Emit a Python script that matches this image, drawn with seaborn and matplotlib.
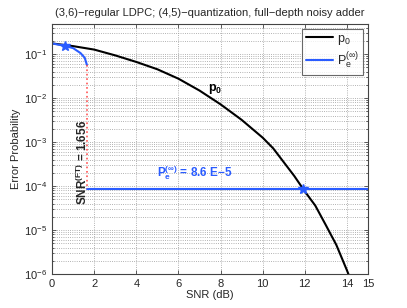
import numpy as np
import pandas as pd
import matplotlib
matplotlib.use('Agg')
import matplotlib.pyplot as plt
from matplotlib.lines import Line2D
from matplotlib.ticker import LogLocator, NullFormatter, FixedLocator
import seaborn as sns

# values
snr_db = [0, 1, 2, 3, 4, 5, 6, 7, 8, 9, 10, 10.5, 11, 11.5, 12, 12.5, 13, 13.5, 14, 14.2]
p0 = [1.74e-1, 1.51e-1, 1.26e-1, 9.3e-2, 6.6e-2, 4.5e-2, 2.75e-2, 1.48e-2,
      7.2e-3, 3.2e-3, 1.26e-3, 7.2e-4, 3.5e-4, 1.7e-4, 7.6e-5, 3.6e-5,
      1.3e-5, 4.6e-6, 1.23e-6, 7.0e-7]

pe_snr = [0, 0.6, 1.0, 1.35, 1.55, 1.656]
pe_curve = [1.74e-1, 1.53e-1, 1.36e-1, 1.05e-1, 8.2e-2, 5.6e-2]

snr_ft = 1.656
pe_inf = 8.6e-5
snr_cross = 11.9
snr_max = 15

x_ticks = [0, 2, 4, 6, 8, 10, 12, 14, 15]

blue = '#2a5cff'

sns.set_style('ticks')
plt.rcParams['font.family'] = ['Liberation Sans', 'DejaVu Sans']
plt.rcParams['mathtext.fontset'] = 'custom'
plt.rcParams['mathtext.rm'] = 'Liberation Sans'
plt.rcParams['mathtext.it'] = 'Liberation Sans'
plt.rcParams['mathtext.bf'] = 'Liberation Sans:bold'

fig, ax = plt.subplots(figsize=(4.07, 3.08), dpi=100)
fig.subplots_adjust(left=0.128, right=0.904, bottom=0.110, top=0.922)

df_p0 = pd.DataFrame({'snr': snr_db, 'p': p0})
df_pe = pd.DataFrame({'snr': pe_snr, 'p': pe_curve})
df_flat = pd.DataFrame({'snr': [snr_ft, snr_max], 'p': [pe_inf, pe_inf]})

sns.lineplot(data=df_p0, x='snr', y='p', color='black', lw=1.5, sort=False,
             estimator=None, ax=ax)
sns.lineplot(data=df_pe, x='snr', y='p', color=blue, lw=1.5, sort=False,
             estimator=None, ax=ax)
sns.lineplot(data=df_flat, x='snr', y='p', color=blue, lw=1.5, sort=False,
             estimator=None, ax=ax)

# threshold jump
ax.plot([snr_ft, snr_ft], [pe_curve[-1], pe_inf], color='#ff5555', ls=':', lw=1.2)

# star markers
ax.plot([pe_snr[1], snr_cross], [pe_curve[1], pe_inf], ls='none', marker='*',
        ms=7, color=blue)

ax.set_yscale('log')
ax.set_xlim(0, 15)
ax.set_ylim(1e-6, 0.48)
ax.xaxis.set_major_locator(FixedLocator(x_ticks))
ax.yaxis.set_major_locator(LogLocator(base=10, numticks=10))
ax.yaxis.set_minor_locator(LogLocator(base=10, subs=np.arange(2, 10), numticks=20))
ax.yaxis.set_minor_formatter(NullFormatter())

ax.grid(True, which='major', color='#999999', ls=':', lw=0.6)
ax.grid(True, which='minor', axis='y', color='#999999', ls=':', lw=0.6)
ax.tick_params(which='both', direction='in', top=True, right=True,
               labelsize=8, color='#444444', width=0.6)
ax.tick_params(which='major', length=3)
ax.tick_params(which='minor', length=1.5)
for s in ax.spines.values():
    s.set_color('#444444')
    s.set_linewidth(0.8)

ax.set_title('(3,6)\u2212regular LDPC; (4,5)\u2212quantization, full\u2212depth noisy adder',
             fontsize=8, pad=6)
ax.set_xlabel('SNR (dB)', fontsize=8, labelpad=1)
ax.set_ylabel('Error Probability', fontsize=8, labelpad=2)

ax.text(7.4, 1.6e-2, r'$\mathbf{p_0}$', fontsize=9, color='black',
        ha='left', va='center')
ax.text(5.0, 1.25e-4, r'$\mathbf{P_e^{(\infty)}}$' + ' = 8.6 E\u22125', fontsize=8.5,
        color=blue, fontweight='bold', ha='left', va='bottom')
ax.text(1.42, 3.4e-4, r'$\mathbf{SNR^{(FT)}}$' + ' = 1.656', fontsize=8.5,
        fontweight='bold', rotation=90, ha='center', va='center')

handles = [Line2D([], [], color='black', lw=1.5),
           Line2D([], [], color=blue, lw=1.5)]
leg = ax.legend(handles, [r'$\mathregular{p_0}$', r'$\mathregular{P_e^{(\infty)}}$'],
                loc='upper right', fontsize=9, frameon=True, fancybox=False,
                edgecolor='#444444', handlelength=2.2, borderaxespad=0.4,
                handletextpad=0.3, labelspacing=0.3, borderpad=0.3)
leg.get_frame().set_linewidth(0.8)

plt.savefig('out.png', dpi=100)
